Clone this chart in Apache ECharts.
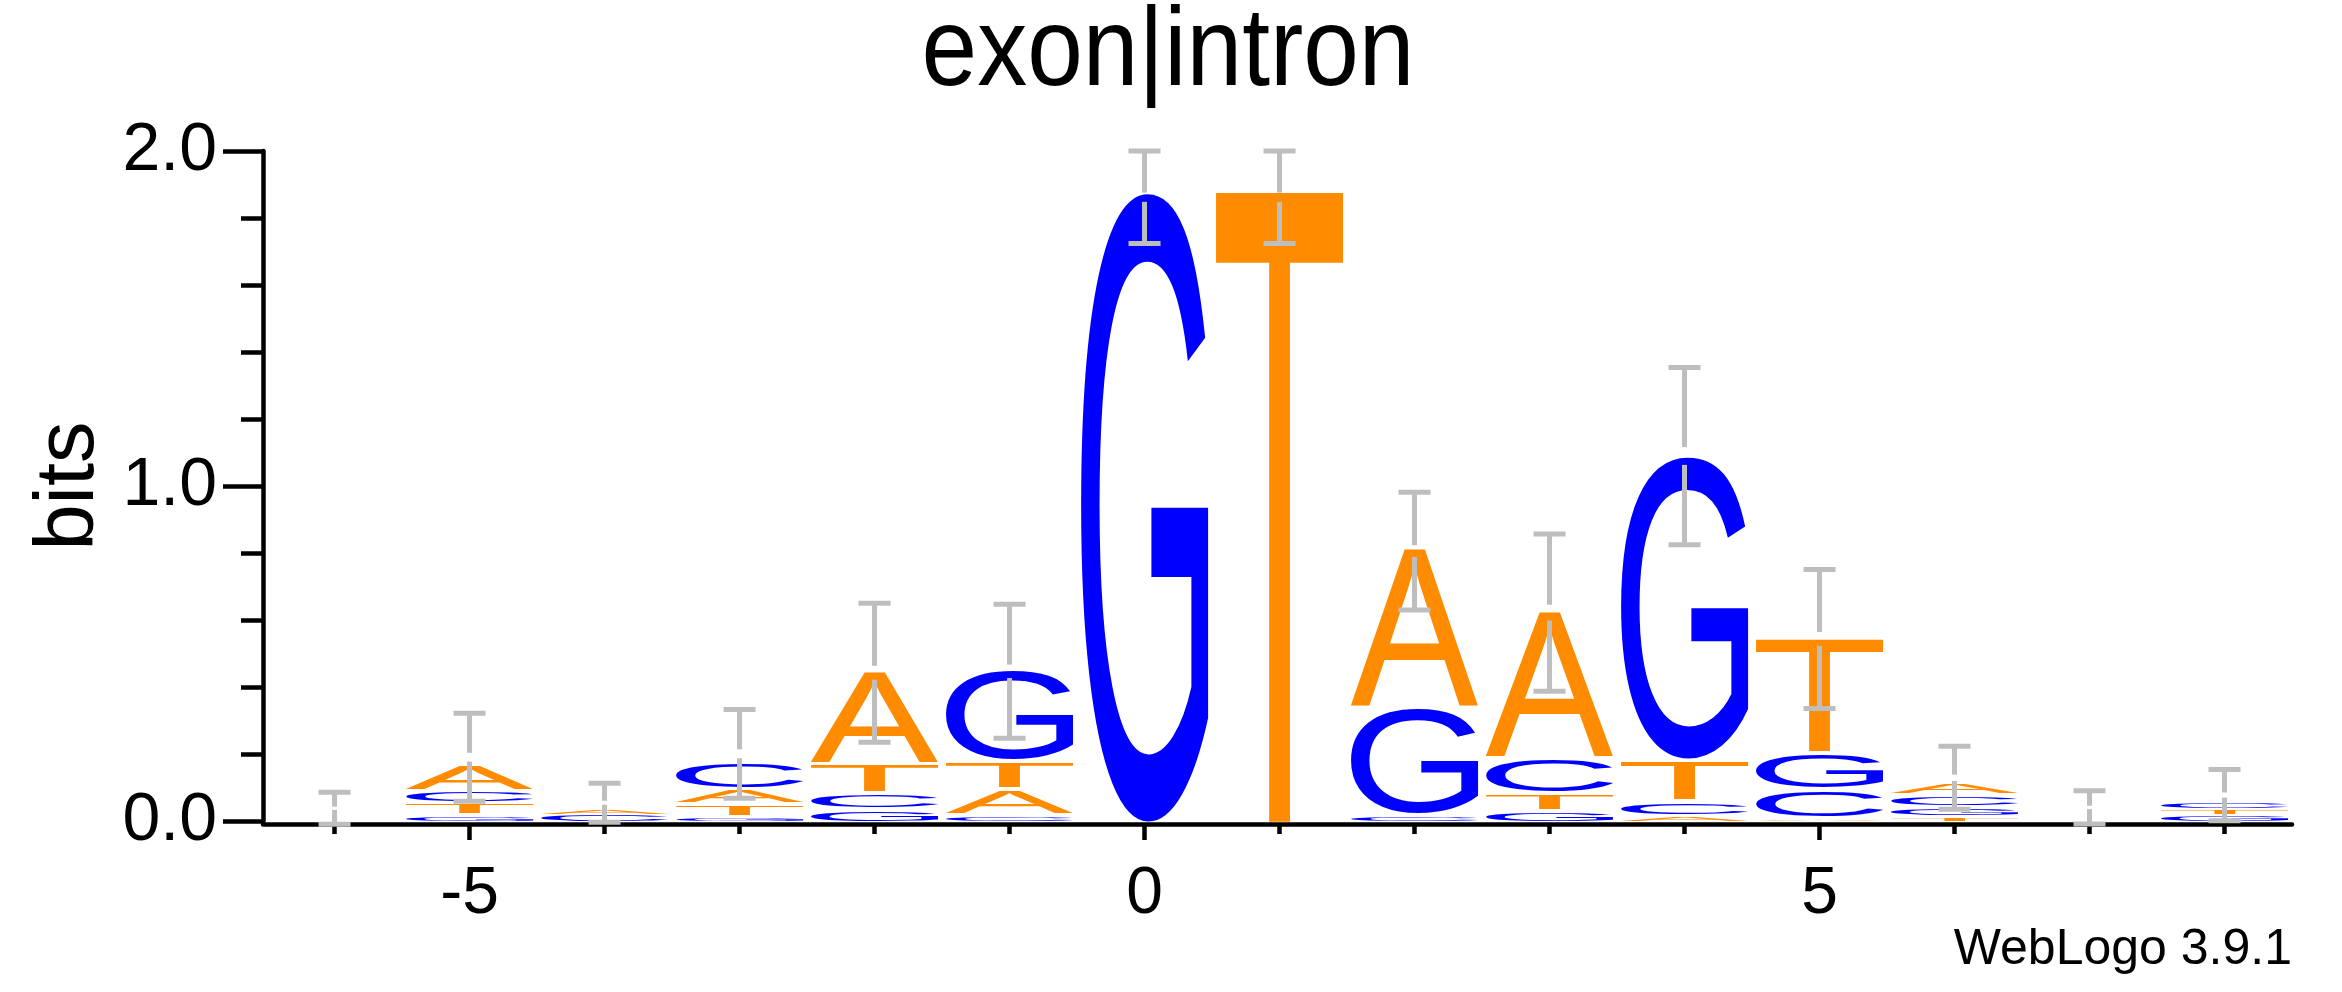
<!DOCTYPE html>
<html><head><meta charset="utf-8">
<script src="https://cdn.jsdelivr.net/npm/echarts@6/dist/echarts.min.js"></script>
<style>html,body{margin:0;padding:0;background:#fff}#c{width:2342px;height:992px}</style>
</head><body><div id="c"></div>
<script>
// ---- data (bits) ----
const positions = [-6, -5, -4, -3, -2, -1, 0, 1, 2, 3, 4, 5, 6, 7, 8];
const bitsA = [0, 0.0795, 0.018, 0.044, 0.2778, 0.0777, 0, 0, 0.4756, 0.4378, 0.010, 0.003, 0.0375, 0, 0];
const bitsC = [0, 0.0375, 0.017, 0.084, 0.0477, 0.0128, 0, 0, 0.012, 0.1064, 0.043, 0.0845, 0.0345, 0, 0.023];
const bitsG = [0, 0.012, 0, 0.008, 0.029, 0.2748, 1.871, 0, 0.3193, 0.0248, 0.9095, 0.1095, 0.030, 0, 0.014];
const bitsT = [0, 0.0355, 0, 0.0377, 0.0873, 0.0825, 0, 1.875, 0, 0.0528, 0.122, 0.345, 0.008, 0, 0.0188];
const errLow  = [-0.010, 0.059, -0.004, 0.068, 0.235, 0.247, 1.724, 1.724, 0.630, 0.387, 0.825, 0.336, 0.035, -0.009, 0.001];
const errHigh = [0.086, 0.322, 0.113, 0.333, 0.650, 0.647, 2.0, 2.0, 0.981, 0.857, 1.354, 0.751, 0.223, 0.090, 0.154];
const xTickLabels = [-5, 0, 5];
const yTickLabels = ['0.0', '1.0', '2.0'];
const bases = ['A', 'C', 'G', 'T'];
const baseColors = {A: '#ff8c00', T: '#ff8c00', C: '#0000ff', G: '#0000ff'};

// ---- build stacks ----
const perBase = {A: bitsA, C: bitsC, G: bitsG, T: bitsT};
const letterData = [];
positions.forEach((p, i) => {
  const items = bases.map(b => ({b, h: perBase[b][i]})).filter(o => o.h > 0);
  items.sort((a, b) => a.h - b.h);
  let acc = 0;
  items.forEach((o, k) => {
    letterData.push([p, acc, acc + o.h, bases.indexOf(o.b), k === 0 ? 1 : 0]);
    acc += o.h;
  });
});
const errData = positions.map((p, i) => [p, errLow[i], errHigh[i]]);

// ---- glyph ink metrics (measured from how the renderer actually draws them) ----
const GLYPH_FONT = '400px "Liberation Sans"';
function glyphStyle(b, fill) {
  return {text: b, x: 0, y: 0, font: GLYPH_FONT, fill: fill,
          align: 'left', verticalAlign: 'middle', textAlign: 'left', textVerticalAlign: 'middle'};
}
const metrics = {};
(function () {
  const cv = document.createElement('canvas');
  const ctx = cv.getContext('2d');
  ctx.font = GLYPH_FONT; ctx.textBaseline = 'middle'; ctx.textAlign = 'left';
  bases.forEach(b => {
    const m = ctx.measureText(b);
    metrics[b] = {left: -m.actualBoundingBoxLeft, right: m.actualBoundingBoxRight,
                  top: -m.actualBoundingBoxAscent, bottom: m.actualBoundingBoxDescent};
  });
  try {
    const div = document.createElement('div');
    div.style.cssText = 'position:absolute;left:-6000px;top:0;width:2400px;height:800px';
    document.body.appendChild(div);
    const c = echarts.init(div, null, {renderer: 'canvas', devicePixelRatio: 1});
    const OX = 100, OY = 400, STEP = 580;
    c.setOption({animation: false, graphic: bases.map((b, i) => ({
      type: 'text', x: OX + STEP * i, y: OY, style: glyphStyle(b, '#000')}))});
    c.getZr().refreshImmediately();
    const canvas = div.querySelector('canvas');
    const W = canvas.width, H = canvas.height;
    const data = canvas.getContext('2d').getImageData(0, 0, W, H).data;
    bases.forEach((b, i) => {
      let minX = 1e9, maxX = -1, minY = 1e9, maxY = -1;
      const x0 = STEP * i + 20, x1 = Math.min(W, STEP * (i + 1) + 20);
      for (let y = 0; y < H; y++) {
        for (let x = x0; x < x1; x++) {
          if (data[(y * W + x) * 4 + 3] >= 128) {
            if (x < minX) minX = x; if (x > maxX) maxX = x;
            if (y < minY) minY = y; if (y > maxY) maxY = y;
          }
        }
      }
      if (maxX > minX && maxY > minY) {
        const ox = OX + STEP * i;
        metrics[b] = {left: minX - ox, right: maxX + 1 - ox, top: minY - OY, bottom: maxY + 1 - OY};
      }
    });
    c.dispose();
    div.remove();
  } catch (e) { /* keep fallback */ }
})();

const HALF_W = 0.47;
function renderLetter(params, api) {
  const x = api.value(0), y0 = api.value(1), y1 = api.value(2);
  const b = bases[api.value(3)];
  const isBottom = api.value(4) === 1;
  const pTL = api.coord([x - HALF_W, y1]);
  const pBR = api.coord([x + HALF_W, y0]);
  let top = pTL[1], bottom = pBR[1];
  if (!isBottom) bottom -= Math.min(4, (bottom - top) * 0.3);
  const w = pBR[0] - pTL[0], h = bottom - top;
  if (h < 0.4) return null;
  const m = metrics[b];
  const sx = w / (m.right - m.left), sy = h / (m.bottom - m.top);
  return {
    type: 'text',
    x: pTL[0] - m.left * sx,
    y: top - m.top * sy,
    scaleX: sx, scaleY: sy,
    style: glyphStyle(b, baseColors[b])
  };
}

function renderErr(params, api) {
  const x = api.value(0);
  const pt = api.coord([x, api.value(2)]);
  const pb = api.coord([x, api.value(1)]);
  const cx = pt[0], yt = pt[1], yb = pb[1];
  const len = yb - yt, mid = (yt + yb) / 2, gap = len * 0.1;
  const col = '#bebebe', lw = 5, capW = 32;
  return {
    type: 'group',
    children: [
      {type: 'rect', shape: {x: cx - lw / 2, y: yt, width: lw, height: mid - gap / 2 - yt}, style: {fill: col}},
      {type: 'rect', shape: {x: cx - lw / 2, y: mid + gap / 2, width: lw, height: yb - mid - gap / 2}, style: {fill: col}},
      {type: 'rect', shape: {x: cx - capW / 2, y: yt - lw / 2, width: capW, height: lw}, style: {fill: col}},
      {type: 'rect', shape: {x: cx - capW / 2, y: yb - lw / 2, width: capW, height: lw}, style: {fill: col}}
    ]
  };
}

const FONT = 'Liberation Sans';
const XMIN = -6.53, XMAX = 8.5;
const chart = echarts.init(document.getElementById('c'), null, {renderer: 'canvas'});
chart.setOption({
  animation: false,
  backgroundColor: '#fff',
  graphic: [
    {type: 'text', x: 1168, y: 54, scaleY: 1.12,
     style: {text: 'exon|intron', font: '100px "Liberation Sans"', fill: '#000',
             align: 'center', verticalAlign: 'middle', textAlign: 'center', textVerticalAlign: 'middle'}},
    {type: 'text', right: 50, top: 925,
     style: {text: 'WebLogo 3.9.1', font: '50px "Liberation Sans"', fill: '#000'}}
  ],
  grid: {left: 263, right: 50, top: 151, bottom: 171, containLabel: false},
  xAxis: [{
    type: 'value', min: XMIN, max: XMAX, offset: 3,
    axisLine: {show: true, onZero: false, lineStyle: {color: '#000', width: 4.5}},
    axisTick: {show: true, customValues: [-5, 0, 5], length: 16, lineStyle: {color: '#000', width: 4.5}},
    axisLabel: {show: true, customValues: xTickLabels, margin: 38, fontSize: 66, fontFamily: FONT, color: '#000'},
    splitLine: {show: false}
  }, {
    type: 'value', min: XMIN, max: XMAX, offset: 3, position: 'bottom',
    axisLine: {show: false, onZero: false},
    axisTick: {show: true, customValues: positions, length: 10, lineStyle: {color: '#000', width: 4.5}},
    axisLabel: {show: false},
    splitLine: {show: false}
  }],
  yAxis: {
    type: 'value', min: 0, max: 2, interval: 1,
    name: 'bits', nameLocation: 'middle', nameRotate: 90, nameGap: 150,
    nameTextStyle: {fontFamily: FONT, fontSize: 83, color: '#000'},
    axisLine: {show: true, onZero: false, lineStyle: {color: '#000', width: 4.5}},
    axisTick: {show: true, length: 40, lineStyle: {color: '#000', width: 4.5}},
    minorTick: {show: true, splitNumber: 5, length: 22, lineStyle: {color: '#000', width: 4.5}},
    axisLabel: {margin: 46, fontSize: 68, fontFamily: FONT, color: '#000',
                formatter: v => yTickLabels[Math.round(v)]},
    splitLine: {show: false}, minorSplitLine: {show: false}
  },
  series: [{
    type: 'custom', name: 'letters', xAxisIndex: 0, yAxisIndex: 0,
    renderItem: renderLetter, data: letterData, encode: {x: 0, y: [1, 2]}, z: 2, clip: false
  }, {
    type: 'custom', name: 'error', xAxisIndex: 0, yAxisIndex: 0,
    renderItem: renderErr, data: errData, encode: {x: 0, y: [1, 2]}, z: 3, clip: false
  }]
});
</script></body></html>
